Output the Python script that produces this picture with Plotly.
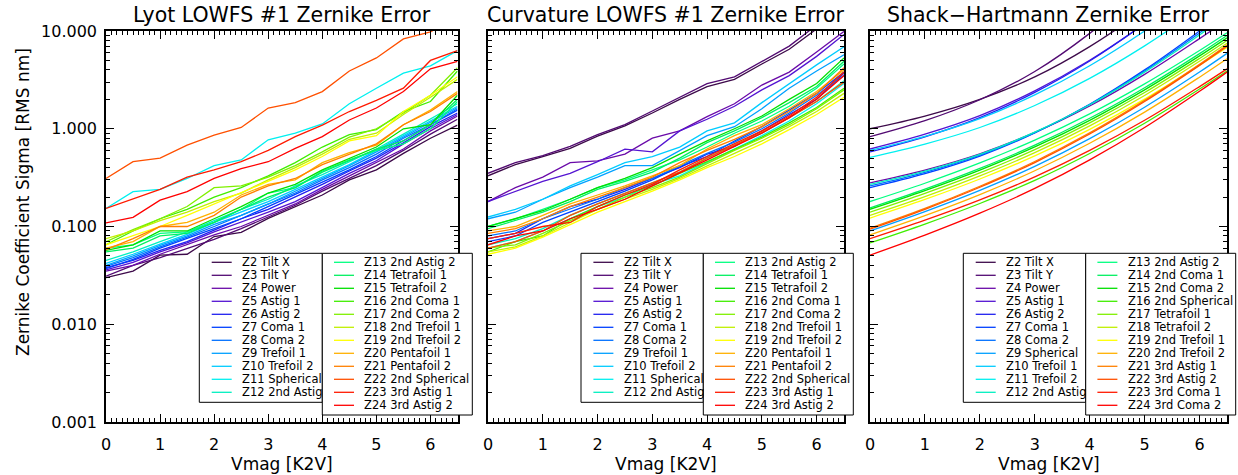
import plotly.graph_objects as go

W, H = 1238, 475
FONT = "DejaVu Sans"

# ---------------- data ----------------
X_MAG = [0.0, 0.5, 1.0, 1.5, 2.0, 2.5, 3.0, 3.5, 4.0, 4.5, 5.0, 5.5, 6.0, 6.5]
X_SH = [0.0, 1.0, 2.0, 3.0, 4.0, 5.0, 6.0, 6.5]

COLORS = ["#3d0a4a", "#520a72", "#6a0aa8", "#5414d2", "#2020f0", "#0040ff",
          "#0070ff", "#00a0ff", "#00ccff", "#00f0f0", "#00f0c0", "#00ff80",
          "#00f060", "#00e000", "#40ee00", "#80f000", "#c0f000", "#ffff00",
          "#ffb000", "#ff8000", "#ff5000", "#ff1a00", "#ff0000"]

NAMES_LOWFS = ["Z2 Tilt X", "Z3 Tilt Y", "Z4 Power", "Z5 Astig 1", "Z6 Astig 2",
               "Z7 Coma 1", "Z8 Coma 2", "Z9 Trefoil 1", "Z10 Trefoil 2",
               "Z11 Spherical", "Z12 2nd Astig", "Z13 2nd Astig 2", "Z14 Tetrafoil 1",
               "Z15 Tetrafoil 2", "Z16 2nd Coma 1", "Z17 2nd Coma 2", "Z18 2nd Trefoil 1",
               "Z19 2nd Trefoil 2", "Z20 Pentafoil 1", "Z21 Pentafoil 2",
               "Z22 2nd Spherical", "Z23 3rd Astig 1", "Z24 3rd Astig 2"]
NAMES_SH = ["Z2 Tilt X", "Z3 Tilt Y", "Z4 Power", "Z5 Astig 1", "Z6 Astig 2",
            "Z7 Coma 1", "Z8 Coma 2", "Z9 Spherical", "Z10 Trefoil 1",
            "Z11 Trefoil 2", "Z12 2nd Astig", "Z13 2nd Astig 2", "Z14 2nd Coma 1",
            "Z15 2nd Coma 2", "Z16 2nd Spherical", "Z17 Tetrafoil 1", "Z18 Tetrafoil 2",
            "Z19 2nd Trefoil 1", "Z20 2nd Trefoil 2", "Z21 3rd Astig 1",
            "Z22 3rd Astig 2", "Z23 3rd Coma 1", "Z24 3rd Coma 2"]

# Lyot LOWFS #1
L02 = [0.030, 0.035, 0.051, 0.052, 0.079, 0.087, 0.121, 0.159, 0.21, 0.30, 0.38, 0.56, 0.80, 1.09]
L03 = [0.031, 0.040, 0.048, 0.060, 0.074, 0.095, 0.125, 0.165, 0.23, 0.31, 0.42, 0.60, 0.88, 1.25]
L04 = [0.035, 0.040, 0.052, 0.065, 0.082, 0.100, 0.130, 0.170, 0.24, 0.33, 0.45, 0.62, 0.95, 1.35]
L05 = [0.036, 0.043, 0.055, 0.068, 0.088, 0.110, 0.140, 0.180, 0.25, 0.35, 0.47, 0.70, 1.00, 1.40]
L06 = [0.038, 0.045, 0.057, 0.070, 0.092, 0.120, 0.150, 0.200, 0.27, 0.37, 0.50, 0.72, 1.05, 1.45]
L07 = [0.037, 0.046, 0.060, 0.075, 0.095, 0.120, 0.160, 0.210, 0.28, 0.38, 0.52, 0.75, 1.10, 1.55]
L08 = [0.039, 0.048, 0.062, 0.078, 0.100, 0.130, 0.170, 0.220, 0.30, 0.40, 0.55, 0.80, 1.10, 1.60]
L09 = [0.040, 0.050, 0.064, 0.080, 0.105, 0.130, 0.170, 0.230, 0.31, 0.42, 0.58, 0.82, 1.15, 1.65]
L10 = [0.042, 0.052, 0.066, 0.083, 0.110, 0.140, 0.180, 0.240, 0.32, 0.43, 0.60, 0.85, 1.20, 1.70]
L11 = [0.153, 0.227, 0.240, 0.310, 0.420, 0.480, 0.770, 0.900, 1.12, 1.80, 2.60, 3.70, 4.40, 6.30]
L12 = [0.045, 0.055, 0.070, 0.088, 0.115, 0.150, 0.190, 0.260, 0.34, 0.46, 0.62, 0.88, 1.25, 1.80]
L13 = [0.060, 0.065, 0.085, 0.088, 0.110, 0.150, 0.220, 0.250, 0.37, 0.48, 0.60, 0.70, 1.00, 1.90]
L14 = [0.055, 0.060, 0.080, 0.085, 0.110, 0.150, 0.200, 0.250, 0.36, 0.47, 0.62, 0.75, 1.10, 2.00]
L15 = [0.057, 0.065, 0.090, 0.090, 0.120, 0.160, 0.220, 0.270, 0.38, 0.50, 0.65, 1.00, 1.10, 2.20]
L16 = [0.065, 0.090, 0.120, 0.150, 0.200, 0.250, 0.330, 0.450, 0.65, 0.87, 0.98, 1.50, 1.90, 3.90]
L17 = [0.070, 0.093, 0.120, 0.160, 0.250, 0.260, 0.320, 0.420, 0.58, 0.82, 1.00, 1.45, 2.20, 4.20]
L18 = [0.075, 0.090, 0.115, 0.140, 0.180, 0.220, 0.300, 0.400, 0.55, 0.78, 0.90, 1.40, 2.10, 3.20]
L19 = [0.065, 0.080, 0.100, 0.130, 0.170, 0.220, 0.290, 0.380, 0.52, 0.75, 0.85, 1.50, 2.20, 3.40]
L20 = [0.060, 0.070, 0.100, 0.110, 0.140, 0.210, 0.270, 0.300, 0.45, 0.57, 0.68, 1.10, 1.55, 2.40]
L21 = [0.058, 0.075, 0.100, 0.100, 0.130, 0.200, 0.260, 0.310, 0.43, 0.55, 0.70, 1.10, 1.50, 2.30]
L22 = [0.310, 0.460, 0.500, 0.680, 0.860, 1.030, 1.630, 1.850, 2.40, 3.90, 5.30, 8.30, 9.80, 14.0]
L23 = [0.153, 0.190, 0.240, 0.320, 0.380, 0.460, 0.600, 0.830, 1.09, 1.50, 1.95, 2.60, 5.00, 6.30]
L24 = [0.109, 0.124, 0.186, 0.227, 0.310, 0.390, 0.460, 0.630, 0.83, 1.23, 1.63, 2.40, 4.10, 4.90]

# Curvature LOWFS #1
C02 = [0.33, 0.43, 0.52, 0.63, 0.84, 1.07, 1.45, 2.00, 2.70, 3.20, 4.60, 6.50, 10.5, 16.0]
C03 = [0.35, 0.45, 0.53, 0.66, 0.87, 1.10, 1.52, 2.10, 2.90, 3.40, 4.90, 7.00, 11.5, 17.0]
C04 = [0.18, 0.25, 0.32, 0.45, 0.47, 0.55, 0.80, 0.95, 1.33, 1.80, 2.80, 3.80, 6.10, 9.90]
C05 = [0.18, 0.23, 0.29, 0.35, 0.46, 0.62, 0.58, 0.95, 1.25, 1.70, 2.50, 3.50, 5.50, 9.20]
C06 = [0.075, 0.085, 0.12, 0.16, 0.19, 0.24, 0.31, 0.40, 0.55, 0.66, 0.95, 1.40, 2.00, 3.70]
C07 = [0.070, 0.080, 0.11, 0.14, 0.18, 0.23, 0.30, 0.41, 0.52, 0.75, 1.05, 1.55, 2.30, 3.80]
C08 = [0.080, 0.090, 0.12, 0.15, 0.19, 0.25, 0.31, 0.42, 0.56, 0.73, 1.00, 1.45, 2.20, 3.50]
C09 = [0.120, 0.140, 0.19, 0.25, 0.32, 0.42, 0.42, 0.60, 0.85, 1.05, 1.60, 2.60, 3.90, 5.70]
C10 = [0.125, 0.150, 0.19, 0.26, 0.34, 0.45, 0.52, 0.65, 0.95, 1.15, 1.85, 2.90, 4.50, 6.90]
C11 = [0.060, 0.070, 0.09, 0.12, 0.16, 0.20, 0.27, 0.33, 0.45, 0.62, 0.85, 1.20, 1.80, 2.90]
C12 = [0.065, 0.075, 0.095, 0.13, 0.17, 0.22, 0.28, 0.36, 0.50, 0.68, 0.90, 1.30, 1.90, 3.10]
C13 = [0.100, 0.120, 0.15, 0.19, 0.25, 0.30, 0.38, 0.48, 0.65, 0.90, 1.20, 1.70, 2.60, 4.60]
C14 = [0.095, 0.115, 0.14, 0.18, 0.24, 0.29, 0.36, 0.50, 0.72, 0.95, 1.30, 1.85, 2.70, 4.90]
C15 = [0.100, 0.120, 0.145, 0.19, 0.25, 0.31, 0.40, 0.55, 0.75, 1.00, 1.35, 2.00, 2.90, 5.30]
C16 = [0.055, 0.070, 0.08, 0.12, 0.16, 0.21, 0.26, 0.35, 0.46, 0.62, 0.82, 1.15, 1.65, 2.60]
C17 = [0.060, 0.065, 0.085, 0.115, 0.15, 0.20, 0.25, 0.32, 0.44, 0.60, 0.80, 1.10, 1.60, 2.50]
C18 = [0.055, 0.062, 0.08, 0.11, 0.15, 0.19, 0.24, 0.31, 0.42, 0.56, 0.75, 1.05, 1.50, 2.30]
C19 = [0.052, 0.060, 0.078, 0.105, 0.14, 0.18, 0.23, 0.30, 0.40, 0.52, 0.70, 0.98, 1.40, 2.10]
C20 = [0.090, 0.100, 0.13, 0.17, 0.21, 0.26, 0.33, 0.42, 0.62, 0.85, 1.10, 1.60, 2.40, 4.00]
C21 = [0.085, 0.095, 0.12, 0.16, 0.20, 0.25, 0.32, 0.45, 0.60, 0.78, 1.05, 1.50, 2.30, 4.20]
C22 = [0.060, 0.070, 0.09, 0.13, 0.17, 0.22, 0.28, 0.36, 0.50, 0.68, 0.92, 1.30, 1.90, 3.00]
C23 = [0.075, 0.085, 0.10, 0.11, 0.16, 0.21, 0.27, 0.38, 0.52, 0.70, 0.95, 1.35, 2.10, 3.80]
C24 = [0.065, 0.080, 0.09, 0.12, 0.15, 0.19, 0.26, 0.35, 0.48, 0.66, 0.90, 1.30, 2.00, 3.50]

# Shack-Hartmann
S02 = [1.00, 1.35, 2.00, 3.39, 6.92, 16.6, 44.7, 75.9]
S03 = [0.83, 1.21, 1.98, 3.85, 9.46, 28.4, 99.0, 190.]
S04 = [0.28, 0.378, 0.555, 0.916, 1.71, 3.60, 8.36, 13.0]
S05 = [0.62, 0.879, 1.36, 2.44, 5.02, 11.9, 31.6, 52.6]
S06 = [0.58, 0.828, 1.30, 2.36, 4.94, 11.9, 32.4, 54.7]
S07 = [0.25, 0.347, 0.525, 0.906, 1.78, 4.00, 10.0, 16.2]
S08 = [0.26, 0.358, 0.537, 0.914, 1.77, 3.90, 9.55, 15.3]
S09 = [0.09, 0.142, 0.234, 0.412, 0.792, 1.66, 3.80, 5.90]
S10 = [0.60, 0.836, 1.27, 2.22, 4.41, 10.0, 25.4, 41.2]
S11 = [0.51, 0.697, 1.03, 1.73, 3.28, 7.05, 16.8, 26.5]
S12 = [0.27, 0.369, 0.548, 0.923, 1.76, 3.80, 9.12, 14.5]
S13 = [0.18, 0.277, 0.447, 0.766, 1.42, 2.88, 6.32, 9.60]
S14 = [0.155, 0.241, 0.393, 0.679, 1.28, 2.63, 5.87, 9.00]
S15 = [0.15, 0.233, 0.378, 0.652, 1.22, 2.50, 5.56, 8.50]
S16 = [0.068, 0.106, 0.172, 0.296, 0.558, 1.14, 2.55, 3.90]
S17 = [0.14, 0.218, 0.353, 0.611, 1.15, 2.35, 5.24, 8.00]
S18 = [0.13, 0.202, 0.329, 0.569, 1.07, 2.19, 4.90, 7.50]
S19 = [0.122, 0.189, 0.306, 0.527, 0.986, 2.01, 4.47, 6.80]
S20 = [0.082, 0.129, 0.212, 0.372, 0.710, 1.48, 3.37, 5.20]
S21 = [0.096, 0.153, 0.258, 0.462, 0.906, 1.95, 4.57, 7.20]
S22 = [0.094, 0.150, 0.252, 0.451, 0.883, 1.90, 4.45, 7.00]
S23 = [0.075, 0.116, 0.187, 0.322, 0.601, 1.22, 2.70, 4.10]
S24 = [0.051, 0.0817, 0.137, 0.245, 0.480, 1.03, 2.42, 3.80]

LYOT = [L02, L03, L04, L05, L06, L07, L08, L09, L10, L11, L12, L13,
        L14, L15, L16, L17, L18, L19, L20, L21, L22, L23, L24]
CURV = [C02, C03, C04, C05, C06, C07, C08, C09, C10, C11, C12, C13,
        C14, C15, C16, C17, C18, C19, C20, C21, C22, C23, C24]
SHWF = [S02, S03, S04, S05, S06, S07, S08, S09, S10, S11, S12, S13,
        S14, S15, S16, S17, S18, S19, S20, S21, S22, S23, S24]

TITLES = ["Lyot LOWFS #1 Zernike Error", "Curvature LOWFS #1 Zernike Error",
          "Shack\u2212Hartmann Zernike Error"]
X_TITLE = "Vmag [K2V]"
Y_TITLE = "Zernike Coefficient Sigma [RMS nm]"

# ---------------- layout geometry (pixels) ----------------
PANEL_X = [(106, 457.5), (488, 844), (870, 1227)]
PLOT_TOP, PLOT_BOT = 31, 422
LEG_LEFT = [199.3, 581.0, 963.3]
LEG_DIV = [322.3, 703.3, 1085.7]
LEG_W2 = 150
LEG_TOP, LEG_BOT1, LEG_BOT2 = 253.3, 402.3, 415.0
ROW0, ROW_DY = 262.3, 13.0


def px(x):
    return x / W


def py(y):
    return 1 - y / H


fig = go.Figure()

panels = [(LYOT, X_MAG, NAMES_LOWFS, "linear"),
          (CURV, X_MAG, NAMES_LOWFS, "linear"),
          (SHWF, X_SH, NAMES_SH, "spline")]

for p, (series, xs, names, shape) in enumerate(panels):
    xa = "x" if p == 0 else f"x{p + 1}"
    ya = "y" if p == 0 else f"y{p + 1}"
    for i, ys in enumerate(series):
        fig.add_trace(go.Scatter(
            x=xs, y=ys, mode="lines", name=names[i], showlegend=False,
            line=dict(color=COLORS[i], width=1.3, shape=shape, smoothing=1.0),
            xaxis=xa, yaxis=ya, hoverinfo="skip"))

layout = dict(width=W, height=H,
              margin=dict(l=0, r=0, t=0, b=0, pad=0, autoexpand=False),
              paper_bgcolor="white", plot_bgcolor="white", showlegend=False,
              font=dict(family=FONT, color="black"))

for p in range(3):
    sx = "" if p == 0 else str(p + 1)
    x0, x1 = PANEL_X[p]
    layout["xaxis" + sx] = dict(
        domain=[px(x0), px(x1)], range=[0, 6.5], anchor="y" + sx,
        showline=True, linecolor="black", linewidth=1.5, mirror="ticks",
        ticks="inside", ticklen=8, tickwidth=1, tickcolor="black",
        tickmode="linear", tick0=0, dtick=1, showgrid=False, zeroline=False,
        tickfont=dict(size=16, family=FONT, color="black"),
        ticklabelstandoff=7,
        minor=dict(ticks="inside", ticklen=4, tickwidth=1, tickcolor="black",
                   dtick=0.1, showgrid=False))
    layout["yaxis" + sx] = dict(
        domain=[py(PLOT_BOT), py(PLOT_TOP)], type="log", range=[-3, 1],
        anchor="x" + sx, showline=True, linecolor="black", linewidth=1.5,
        mirror="ticks", ticks="inside", ticklen=8, tickwidth=1, tickcolor="black",
        dtick=1, tickformat=".3f", showgrid=False, zeroline=False,
        showticklabels=(p == 0), ticklabelstandoff=4,
        tickfont=dict(size=16, family=FONT, color="black"),
        minor=dict(ticks="inside", ticklen=4, tickwidth=1, tickcolor="black",
                   dtick="D1", showgrid=False))

fig.update_layout(**layout)

annotations = []
shapes = []
for p in range(3):
    x0, x1 = PANEL_X[p]
    cx = (x0 + x1) / 2
    annotations.append(dict(text=TITLES[p], x=px(cx), y=py(15), xref="paper", yref="paper",
                            xanchor="center", yanchor="middle", showarrow=False,
                            font=dict(size=20.5, family=FONT, color="black")))
    annotations.append(dict(text=X_TITLE, x=px(cx), y=py(464), xref="paper", yref="paper",
                            xanchor="center", yanchor="middle", showarrow=False,
                            font=dict(size=17, family=FONT, color="black")))
    lx, dv = LEG_LEFT[p], LEG_DIV[p]
    shapes.append(dict(type="rect", xref="paper", yref="paper", layer="above",
                       x0=px(lx), x1=px(dv), y0=py(LEG_BOT1), y1=py(LEG_TOP),
                       line=dict(color="black", width=1), fillcolor="white"))
    shapes.append(dict(type="rect", xref="paper", yref="paper", layer="above",
                       x0=px(dv), x1=px(dv + LEG_W2), y0=py(LEG_BOT2), y1=py(LEG_TOP),
                       line=dict(color="black", width=1), fillcolor="white"))
    names = panels[p][2]
    for i, name in enumerate(names):
        if i < 11:
            bx, row = lx, i
            s0, s1, tx = bx + 12.4, bx + 32.4, bx + 40.7
        else:
            bx, row = dv, i - 11
            s0, s1, tx = bx + 11.7, bx + 31.7, bx + 40.0
        ry = ROW0 + ROW_DY * row
        shapes.append(dict(type="line", xref="paper", yref="paper", layer="above",
                           x0=px(s0), x1=px(s1), y0=py(ry), y1=py(ry),
                           line=dict(color=COLORS[i], width=1.3)))
        annotations.append(dict(text=name, x=px(tx), y=py(ry), xref="paper", yref="paper",
                                xanchor="left", yanchor="middle", showarrow=False,
                                font=dict(size=11.5, family=FONT, color="black")))

annotations.append(dict(text=Y_TITLE, x=px(23), y=py(202), xref="paper", yref="paper",
                        xanchor="center", yanchor="middle", showarrow=False, textangle=-90,
                        font=dict(size=17, family=FONT, color="black")))

fig.update_layout(annotations=annotations, shapes=shapes)
fig.write_html("out.html")
